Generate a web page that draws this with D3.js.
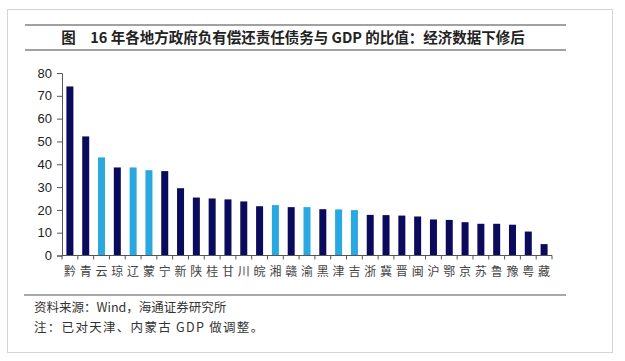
<!DOCTYPE html>
<html>
<head>
<meta charset="utf-8">
<script src="https://cdn.jsdelivr.net/npm/d3@7"></script>
<style>
  body { margin: 0; background: #fff; }
  svg { display: block; }
</style>
</head>
<body>
<div id="chart"></div>
<script>
// provinces, sorted by ratio (%)
var provinces = ["黔","青","云","琼","辽","蒙","宁","新","陕","桂","甘","川","皖","湘","赣","渝","黑","津","吉","浙","冀","晋","闽","沪","鄂","京","苏","鲁","豫","粤","藏"];
var ratios = [74.1, 52.2, 43.0, 38.6, 38.6, 37.4, 37.0, 29.5, 25.4, 25.0, 24.6, 23.7, 21.6, 22.1, 21.2, 21.2, 20.3, 20.2, 19.9, 17.8, 17.7, 17.5, 17.1, 15.8, 15.6, 14.6, 13.9, 13.9, 13.5, 10.5, 5.0];
// provinces drawn in light blue
var highlighted = ["云","辽","蒙","湘","渝","津","吉"];
var yTicks = [0, 10, 20, 30, 40, 50, 60, 70, 80];

var titleText = "图　16 年各地方政府负有偿还责任债务与 GDP 的比值：经济数据下修后";
var sourceText = "资料来源：Wind，海通证券研究所";
var noteText = "注：已对天津、内蒙古 GDP 做调整。";

var W = 625, H = 361;
var svg = d3.select("#chart").append("svg")
  .attr("width", W).attr("height", H);

// outer frame
svg.append("rect")
  .attr("x", 7.5).attr("y", 9.5)
  .attr("width", 605).attr("height", 343)
  .attr("fill", "#fff").attr("stroke", "#d4d4d4");

// title rules
svg.append("line").attr("x1", 25).attr("x2", 566).attr("y1", 25).attr("y2", 25)
  .attr("stroke", "#444").attr("stroke-width", 1.2);
svg.append("line").attr("x1", 25).attr("x2", 566).attr("y1", 50).attr("y2", 50)
  .attr("stroke", "#444").attr("stroke-width", 1.2);
svg.append("text")
  .attr("x", 293).attr("y", 42.5)
  .attr("text-anchor", "middle")
  .attr("font-family", "'Noto Sans CJK SC', sans-serif")
  .attr("font-weight", "bold")
  .attr("font-size", 14.5)
  .attr("fill", "#222")
  .text(titleText);

var margin = {left: 62, top: 73, right: 73, bottom: 105};
var x = d3.scaleBand()
  .domain(provinces)
  .range([margin.left, 552]);
var y = d3.scaleLinear()
  .domain([0, 80])
  .range([255.5, 73]);

var g = svg.append("g");

// bars
g.selectAll("rect.bar")
  .data(provinces)
  .enter()
  .append("rect")
  .attr("class", "bar")
  .attr("x", function(d) { return x(d) + x.bandwidth() / 2 - 3.5; })
  .attr("width", 7)
  .attr("y", function(d, i) { return y(ratios[i]); })
  .attr("height", function(d, i) { return y(0) - y(ratios[i]); })
  .attr("fill", function(d) {
    return highlighted.indexOf(d) >= 0 ? "#29a9df" : "#0b0b5e";
  });

// y axis
var yAxis = d3.axisLeft(y).tickValues(yTicks).tickSize(5).tickPadding(5);
var ya = g.append("g")
  .attr("transform", "translate(" + margin.left + ",0)")
  .call(yAxis);
ya.select(".domain").attr("stroke", "#555");
ya.selectAll(".tick line").attr("stroke", "#555");
ya.selectAll("text")
  .attr("font-family", "Arial, 'Liberation Sans', sans-serif")
  .attr("font-size", 13)
  .attr("fill", "#222");

// x axis: ticks at band boundaries
var xa = g.append("g")
  .attr("transform", "translate(0," + y(0) + ")");
xa.append("line")
  .attr("x1", margin.left).attr("x2", 552)
  .attr("stroke", "#555");
var bounds = provinces.map(function(d) { return x(d); }).concat([552]);
xa.selectAll("line.tk")
  .data(bounds)
  .enter()
  .append("line")
  .attr("class", "tk")
  .attr("x1", function(d) { return d; })
  .attr("x2", function(d) { return d; })
  .attr("y1", 0).attr("y2", 4)
  .attr("stroke", "#555");
xa.selectAll("text")
  .data(provinces)
  .enter()
  .append("text")
  .attr("x", function(d) { return x(d) + x.bandwidth() / 2; })
  .attr("y", 20.5)
  .attr("text-anchor", "middle")
  .attr("font-family", "'Noto Sans CJK SC', sans-serif")
  .attr("font-size", 12)
  .attr("fill", "#444")
  .text(function(d) { return d; });

// footer
svg.append("line").attr("x1", 24).attr("x2", 566).attr("y1", 295).attr("y2", 295)
  .attr("stroke", "#555").attr("stroke-width", 1.2);
svg.append("text")
  .attr("x", 34).attr("y", 312)
  .attr("font-family", "'Noto Sans CJK SC', sans-serif")
  .attr("font-size", 12.5)
  .attr("fill", "#333")
  .text(sourceText);
svg.append("text")
  .attr("x", 34).attr("y", 331.5)
  .attr("font-family", "'Noto Sans CJK SC', sans-serif")
  .attr("font-size", 12.5)
  .attr("letter-spacing", 1.3)
  .attr("fill", "#333")
  .text(noteText);
</script>
</body>
</html>
